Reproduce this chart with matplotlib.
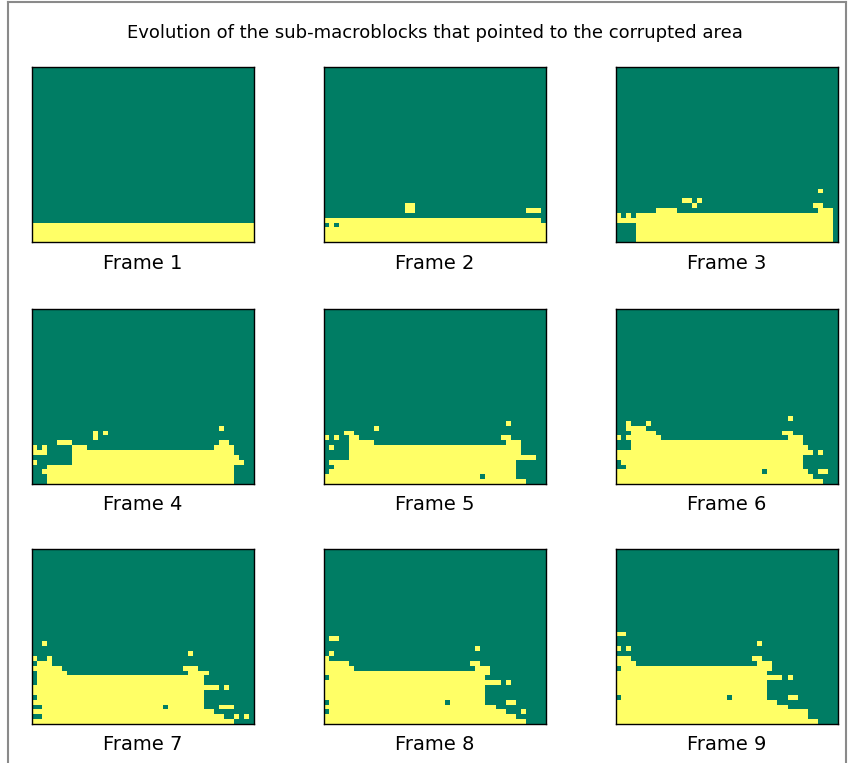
import numpy as np
import matplotlib
matplotlib.use("Agg")
import matplotlib.pyplot as plt
from matplotlib.colors import ListedColormap
from matplotlib.lines import Line2D

# Sub-macroblock grid of a QCIF frame: 36 rows x 44 columns of 4x4 blocks.
N_ROWS, N_COLS = 36, 44

TITLE = "Evolution of the sub-macroblocks that pointed to the corrupted area"
FRAME_LABELS = [f"Frame {i}" for i in range(1, 10)]

# Each frame: row index -> list of inclusive (first_col, last_col) runs of
# sub-macroblocks that pointed to the corrupted area.
FRAME_1 = {32: [(0, 43)], 33: [(0, 43)], 34: [(0, 43)], 35: [(0, 43)]}

FRAME_2 = {
    28: [(16, 17)],
    29: [(16, 17), (40, 42)],
    31: [(0, 42)],
    32: [(1, 1), (3, 43)],
    33: [(0, 43)], 34: [(0, 43)], 35: [(0, 43)],
}

FRAME_3 = {
    25: [(40, 40)],
    27: [(13, 14), (16, 16)],
    28: [(15, 15), (39, 40)],
    29: [(8, 11), (40, 42)],
    30: [(0, 0), (2, 2), (4, 42)],
    31: [(0, 42)],
    32: [(4, 42)], 33: [(4, 42)], 34: [(4, 42)], 35: [(4, 42)],
}

FRAME_4 = {
    24: [(37, 37)],
    25: [(12, 12), (14, 14)],
    26: [(12, 12)],
    27: [(5, 7), (37, 38)],
    28: [(0, 0), (2, 2), (8, 10), (36, 39)],
    29: [(0, 2), (8, 39)],
    30: [(8, 40)],
    31: [(0, 0), (8, 41)],
    32: [(3, 39)],
    33: [(2, 39)],
    34: [(3, 39)],
    35: [(3, 39)],
}

FRAME_5 = {
    23: [(36, 36)],
    24: [(10, 10)],
    25: [(4, 5)],
    26: [(0, 0), (2, 2), (5, 6), (35, 36)],
    27: [(5, 9), (36, 38)],
    28: [(1, 1), (5, 38)],
    29: [(5, 38)],
    30: [(5, 41)],
    31: [(1, 37)],
    32: [(2, 37)],
    33: [(1, 37)],
    34: [(0, 30), (32, 37)],
    35: [(0, 39)],
}

FRAME_6 = {
    22: [(34, 34)],
    23: [(2, 2), (6, 6)],
    24: [(2, 5)],
    25: [(3, 7), (33, 34)],
    26: [(0, 0), (2, 8), (34, 36)],
    27: [(3, 36)],
    28: [(3, 37)],
    29: [(0, 38), (40, 40)],
    30: [(0, 36)],
    31: [(1, 36)],
    32: [(2, 36)],
    33: [(0, 28), (30, 37), (40, 41)],
    34: [(0, 38)],
    35: [(0, 40)],
}

FRAME_7 = {
    19: [(2, 2)],
    21: [(31, 31)],
    22: [(0, 0), (3, 3)],
    23: [(1, 3)],
    24: [(0, 5), (30, 32)],
    25: [(1, 6), (31, 34)],
    26: [(1, 33)],
    27: [(1, 33)],
    28: [(0, 36), (38, 38)],
    29: [(0, 33)],
    30: [(1, 33)],
    31: [(0, 33)],
    32: [(2, 25), (27, 33), (37, 39)],
    33: [(0, 35)],
    34: [(2, 37), (40, 40), (42, 42)],
    35: [(0, 39)],
}

FRAME_8 = {
    18: [(1, 2)],
    20: [(30, 30)],
    21: [(1, 1)],
    22: [(0, 0)],
    23: [(0, 4), (29, 30)],
    24: [(0, 5), (30, 32)],
    25: [(0, 32)],
    26: [(1, 31)],
    27: [(0, 34), (36, 36)],
    28: [(0, 31)],
    29: [(0, 31)],
    30: [(0, 31)],
    31: [(1, 23), (25, 31), (36, 37)],
    32: [(0, 33)],
    33: [(1, 35), (39, 39)],
    34: [(0, 37)],
    35: [(0, 39)],
}

FRAME_9 = {
    17: [(0, 1)],
    19: [(28, 28)],
    20: [(0, 0), (2, 2)],
    22: [(0, 2), (27, 28)],
    23: [(0, 3), (28, 30)],
    24: [(1, 30)],
    25: [(0, 29)],
    26: [(0, 32), (34, 34)],
    27: [(0, 29)],
    28: [(0, 29)],
    29: [(0, 29)],
    30: [(1, 21), (23, 29), (34, 35)],
    31: [(0, 31)],
    32: [(0, 33)],
    33: [(0, 37)],
    34: [(0, 37)],
    35: [(0, 39)],
}

FRAMES = [FRAME_1, FRAME_2, FRAME_3, FRAME_4, FRAME_5,
          FRAME_6, FRAME_7, FRAME_8, FRAME_9]

GREEN = "#007d64"
YELLOW = "#ffff66"


def to_grid(runs):
    grid = np.zeros((N_ROWS, N_COLS), dtype=int)
    for row, spans in runs.items():
        for c0, c1 in spans:
            grid[row, c0:c1 + 1] = 1
    return grid


W, H = 848, 763
plt.rcParams["font.family"] = ["DejaVu Sans"]
fig = plt.figure(figsize=(W / 100, H / 100), dpi=100, facecolor="white")

cmap = ListedColormap([GREEN, YELLOW])
col_left = [32, 324, 616]
row_top = [67, 309, 549]
ax_w, ax_h = 222, 175

for k, runs in enumerate(FRAMES):
    r, c = divmod(k, 3)
    x0, y0 = col_left[c], row_top[r]
    ax = fig.add_axes([x0 / W, 1 - (y0 + ax_h) / H, ax_w / W, ax_h / H])
    ax.imshow(to_grid(runs), cmap=cmap, vmin=0, vmax=1,
              interpolation="nearest", aspect="auto")
    ax.set_xticks([])
    ax.set_yticks([])
    for s in ax.spines.values():
        s.set_color("black")
        s.set_linewidth(1.0)
    fig.text((x0 + ax_w / 2) / W, 1 - (y0 + ax_h + 21) / H, FRAME_LABELS[k],
             ha="center", va="center", fontsize=14)

fig.text(435 / W, 1 - 33 / H, TITLE, ha="center", va="center", fontsize=13)

# window frame around the figure
grey = "#8a8a8a"
fig.add_artist(Line2D([8 / W, 846 / W], [1 - 1.5 / H, 1 - 1.5 / H],
                      color=grey, lw=1.5, transform=fig.transFigure))
fig.add_artist(Line2D([8 / W, 8 / W], [0, 1 - 1.5 / H],
                      color=grey, lw=1.5, transform=fig.transFigure))
fig.add_artist(Line2D([846 / W, 846 / W], [0, 1 - 1.5 / H],
                      color=grey, lw=1.5, transform=fig.transFigure))

fig.savefig("out.png", dpi=100, facecolor="white")
